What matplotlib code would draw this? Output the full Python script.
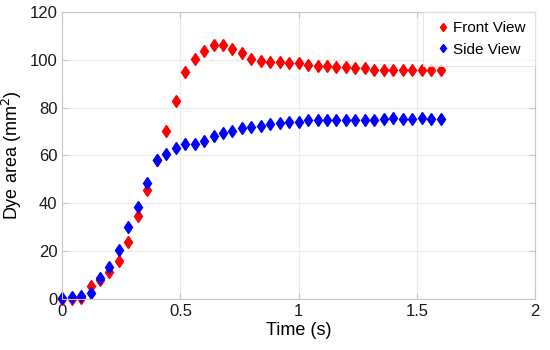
import numpy as np
import matplotlib.pyplot as plt

# sampling times (s)
time = np.arange(41) * 0.04

# dye area (mm^2)
front = [0.0, 0.0, 0.3, 5.4, 8.0, 11.2, 15.8, 23.7, 34.7, 45.6,
         57.9, 70.0, 82.6, 94.7, 100.3, 103.6, 106.0, 106.0, 104.6, 102.8,
         100.3, 99.6, 99.0, 99.0, 98.7, 98.5, 97.6, 97.5, 97.2, 97.0,
         96.8, 96.5, 96.5, 95.5, 95.5, 95.5, 95.5, 95.5, 95.5, 95.5, 95.8]
side = [0.3, 1.0, 1.4, 2.4, 8.9, 13.5, 20.5, 30.0, 38.6, 48.4,
        58.2, 60.7, 63.0, 64.9, 64.6, 66.2, 68.2, 69.3, 70.4, 71.3,
        71.8, 72.4, 73.1, 73.5, 73.8, 74.1, 74.6, 74.7, 74.9, 74.9,
        74.8, 74.8, 75.0, 75.0, 75.2, 75.7, 75.4, 75.4, 75.7, 75.3, 75.4]

plt.rcParams['font.family'] = ['Liberation Sans', 'DejaVu Sans']

fig = plt.figure(figsize=(5.5, 3.5), dpi=100)
ax = fig.add_axes([0.113, 0.146, 0.86, 0.82])

ax.plot(time, front, 'd', color='#ff0000', ms=6.3, mec='#ff0000', label='Front View', clip_on=False)
ax.plot(time, side, 'd', color='#0000ff', ms=6.3, mec='#0000ff', label='Side View', clip_on=False)

ax.set_xlim(0, 2)
ax.set_ylim(0, 120)
ax.set_xticks([0, 0.5, 1, 1.5, 2])
ax.set_xticklabels(['0', '0.5', '1', '1.5', '2'])
ax.set_yticks(range(0, 121, 20))
ax.grid(True, color='#ebebeb', linewidth=0.8)
ax.set_axisbelow(True)
for s in ax.spines.values():
    s.set_color('#c8c8c8')
ax.tick_params(direction='in', length=4, color='#c8c8c8', labelsize=12,
               top=True, right=True, labelcolor='#1a1a1a')

ax.set_xlabel('Time (s)', fontsize=13, labelpad=2)
ax.set_ylabel('Dye area (mm$^2$)', fontsize=13, labelpad=4)

leg = ax.legend(loc='upper right', fontsize=11, handlelength=1.4, handletextpad=0.0,
                borderaxespad=0, fancybox=False, borderpad=0.6, markerscale=0.7)
leg.get_frame().set_edgecolor('#e0e0e0')
leg.get_frame().set_linewidth(0.8)

plt.savefig('out.png', dpi=100)
plt.close()
